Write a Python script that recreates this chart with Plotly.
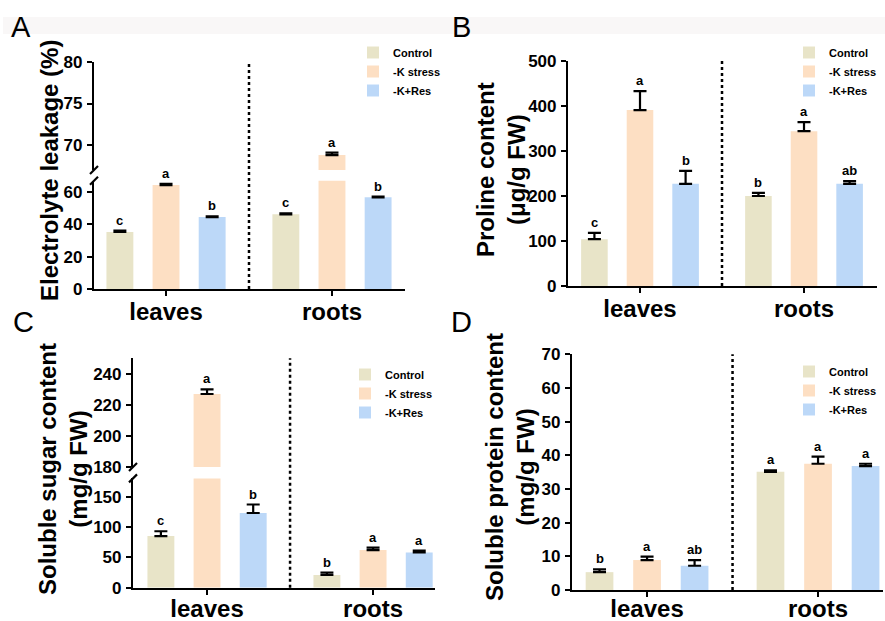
import plotly.graph_objects as go

W, H = 885, 621
FONT = "Arial, Liberation Sans, sans-serif"

groups = ["leaves", "roots"]
series = ["Control", "-K stress", "-K+Res"]
colors = ["#e8e4c8", "#fddfc3", "#bcd8f8"]

# Panel A: Electrolyte leakage (%)
a_vals = [[35.3, 46.2], [64.3, 68.8], [44.5, 56.7]]
a_err = [[0.8, 0.6], [0.7, 0.3], [0.5, 0.4]]
a_letters = [["c", "c"], ["a", "a"], ["b", "b"]]

# Panel B: Proline content (ug/g FW)
b_vals = [[104, 200], [391, 344], [227, 227]]
b_err = [[14, 7], [42, 20], [29, 6]]
b_letters = [["c", "b"], ["a", "a"], ["b", "ab"]]

# Panel C: Soluble sugar content (mg/g FW)
c_vals = [[85, 21], [227, 62], [123, 58]]
c_err = [[8, 4], [3, 4], [14, 3]]
c_letters = [["c", "b"], ["a", "a"], ["b", "a"]]

# Panel D: Soluble protein content (mg/g FW)
d_vals = [[5.3, 35.1], [8.9, 37.5], [7.2, 36.8]]
d_err = [[0.8, 0.4], [1.0, 2.1], [1.7, 0.7]]
d_letters = [["b", "a"], ["a", "a"], ["ab", "a"]]

BARGAP = 0.166
BARGROUPGAP = 0.417
SLOT = (1 - BARGAP) / 3


def px_x(p):
    return p / W


def px_y(p):
    return 1 - p / H


fig = go.Figure()
layout = dict(
    width=W, height=H, margin=dict(l=0, r=0, t=0, b=0, autoexpand=False),
    paper_bgcolor="white", plot_bgcolor="rgba(0,0,0,0)",
    font=dict(family=FONT, color="black"),
    barmode="group", bargap=BARGAP, bargroupgap=BARGROUPGAP,
)
annotations = []
shapes = []

# faint header band
shapes.append(dict(type="rect", xref="paper", yref="paper", x0=px_x(3), x1=1,
                   y0=px_y(34), y1=px_y(17), fillcolor="#f9f7f7", line=dict(width=0),
                   layer="below"))

tickfont = dict(family=FONT, size=17, color="black", weight="bold")


def yax(domain_px, rng, tickvals):
    return dict(domain=[px_y(domain_px[0]), px_y(domain_px[1])], range=rng,
                tickvals=tickvals, showline=True, linewidth=2.2, linecolor="black",
                ticks="outside", ticklen=5, tickwidth=2, tickcolor="black",
                showgrid=False, zeroline=False, tickfont=tickfont, fixedrange=True,
                automargin=False, ticklabelstandoff=1)


def xax(domain_px, rng, anchor, standoff=-5):
    return dict(domain=[px_x(domain_px[0]), px_x(domain_px[1])], range=rng,
                tickvals=[0, 1], ticktext=groups, showline=True, linewidth=2.2,
                linecolor="black", ticks="outside", ticklen=5, tickwidth=2,
                tickcolor="black", showgrid=False, zeroline=False, anchor=anchor,
                automargin=False, fixedrange=True, ticklabelstandoff=standoff,
                tickfont=dict(family=FONT, size=24, color="black", weight="bold"))


def panel(vals, errs, letters, xname, ynames, ycuts, legend_name):
    for i, s in enumerate(series):
        for k, (xa, ya) in enumerate(zip(xname, ynames)):
            fig.add_trace(go.Bar(
                x=[0, 1], y=vals[i], name=s, marker=dict(color=colors[i], line=dict(width=0)),
                error_y=dict(type="data", array=errs[i], arrayminus=[0, 0], symmetric=False,
                             color="black", thickness=2.2, width=6.5),
                xaxis=xa, yaxis=ya, offsetgroup=str(i), legend=legend_name,
                showlegend=(k == 0), legendgroup=legend_name + s,
            ))
        for j in range(2):
            top = vals[i][j] + errs[i][j]
            seg = 0
            for k, (lo, hi) in enumerate(ycuts):
                if lo <= top <= hi:
                    seg = k
            annotations.append(dict(
                x=j + (i - 1) * SLOT, y=top, xref=xname[seg], yref=ynames[seg],
                text=letters[i][j], showarrow=False, yanchor="bottom",
                yshift=1, font=dict(family=FONT, size=13, color="black", weight="bold")))


# ---------- Panel A (broken axis) ----------
layout["xaxis"] = xax((94, 405), [-0.434, 1.44], "y")
layout["yaxis"] = dict(yax((289, 180.7), [0, 67], [0, 20, 40, 60]), anchor="x")
layout["xaxis2"] = dict(xax((94, 405), [-0.434, 1.44], "y2"), visible=False, matches="x")
layout["yaxis2"] = dict(yax((170, 62), [67, 80], [70, 75, 80]), anchor="x2")
panel(a_vals, a_err, a_letters, ["x", "x2"], ["y", "y2"], [(0, 67), (67, 80)], "legend")

# ---------- Panel B ----------
layout["xaxis3"] = xax((568, 877), [-0.439, 1.445], "y3")
layout["yaxis3"] = dict(yax((286, 61), [0, 500], [0, 100, 200, 300, 400, 500]), anchor="x3")
panel(b_vals, b_err, b_letters, ["x3"], ["y3"], [(0, 500)], "legend2")

# ---------- Panel C (broken axis) ----------
layout["xaxis4"] = xax((133, 435), [-0.446, 1.373], "y4", standoff=-7)
layout["yaxis4"] = dict(yax((587.7, 478.4), [0, 180], [0, 50, 100, 150]), anchor="x4")
layout["xaxis5"] = dict(xax((133, 435), [-0.446, 1.373], "y5"), visible=False, matches="x4")
layout["yaxis5"] = dict(yax((467, 358.3), [180, 250], [180, 200, 220, 240]), anchor="x5")
panel(c_vals, c_err, c_letters, ["x4", "x5"], ["y4", "y5"], [(0, 180), (180, 250)], "legend3")

# ---------- Panel D ----------
layout["xaxis6"] = xax((572, 883), [-0.439, 1.38], "y6", standoff=-9)
layout["yaxis6"] = dict(yax((590, 354.3), [0, 70], list(range(0, 71, 10))), anchor="x6")
panel(d_vals, d_err, d_letters, ["x6"], ["y6"], [(0, 70)], "legend4")

# dotted separators
for xr, ybot, ytop in [("x", 289, 62), ("x3", 286, 61), ("x4", 587.7, 358.3), ("x6", 590, 354.3)]:
    shapes.append(dict(type="line", xref=xr, yref="paper", x0=0.5, x1=0.5,
                       y0=px_y(ybot), y1=px_y(ytop), line=dict(color="black", width=2.5, dash="dot")))

# axis break slashes
for xr, yr, anch in [("x domain", "y2 domain", 0), ("x domain", "y domain", 1),
                     ("x4 domain", "y5 domain", 0), ("x4 domain", "y4 domain", 1)]:
    shapes.append(dict(type="line", xref=xr, yref=yr, xsizemode="pixel", ysizemode="pixel",
                       xanchor=0, yanchor=anch, x0=-4, x1=4, y0=-4, y1=4,
                       line=dict(color="black", width=2.2)))

# y-axis titles
ytitles = [("Electrolyte leakage (%)", 49, 171), ("Proline content<br>(μg/g FW)", 501, 169),
           ("Soluble sugar content<br>(mg/g FW)", 63, 469),
           ("Soluble protein content<br>(mg/g FW)", 510, 467)]
for txt, cx, cy in ytitles:
    annotations.append(dict(x=px_x(cx), y=px_y(cy), xref="paper", yref="paper",
                            text=txt, textangle=-90, showarrow=False,
                            xanchor="center", yanchor="middle",
                            font=dict(family=FONT, size=24, color="black", weight="bold")))

# panel letters
for t, cx, cy in [("A", 20.5, 27.5), ("B", 461.5, 27.5), ("C", 23, 321.5), ("D", 461.5, 322)]:
    annotations.append(dict(x=px_x(cx), y=px_y(cy), xref="paper", yref="paper", text=t,
                            showarrow=False, xanchor="center", yanchor="middle",
                            font=dict(family="Liberation Sans Narrow, Arial Narrow, sans-serif",
                                      size=29, color="black")))

leg_common = dict(xanchor="left", yanchor="top", bgcolor="rgba(0,0,0,0)", itemwidth=30,
                  font=dict(family=FONT, size=11, color="black", weight="bold"),
                  traceorder="normal", itemclick=False, itemdoubleclick=False)
layout["legend"] = dict(leg_common, x=px_x(353), y=px_y(38))
layout["legend2"] = dict(leg_common, x=px_x(789), y=px_y(38))
layout["legend3"] = dict(leg_common, x=px_x(345), y=px_y(360))
layout["legend4"] = dict(leg_common, x=px_x(789), y=px_y(357))

layout["annotations"] = annotations
layout["shapes"] = shapes
fig.update_layout(**layout)

fig.write_html("out.html", config={"displayModeBar": False},
               post_script="document.body.style.margin='0';")
